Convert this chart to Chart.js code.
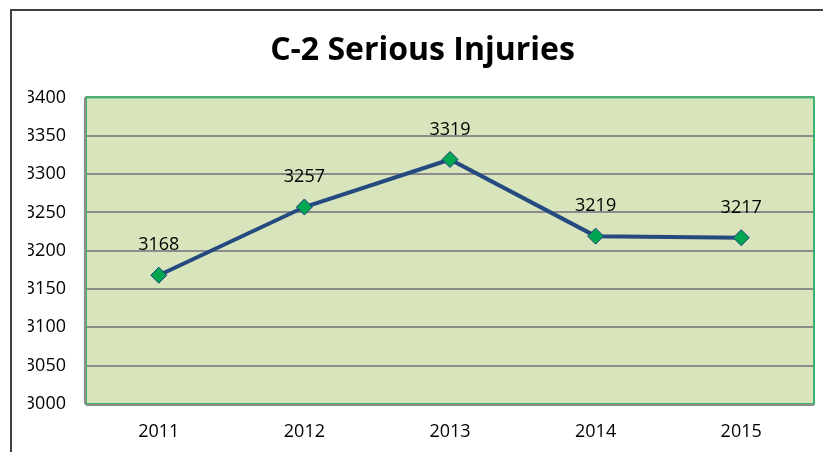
<!DOCTYPE html>
<html lang="en">

<head>
    <meta charset="UTF-8">
    <title>C-2 Serious Injuries</title>
    <script src="https://cdn.jsdelivr.net/npm/chart.js"></script>
    <style>
        body {
            margin: 0;
            background: #ffffff;
        }

        .frame {
            position: absolute;
            left: 10px;
            top: 9px;
            width: 830px;
            height: 460px;
            border-left: 2px solid #404040;
            border-top: 2px solid #404040;
        }

        canvas {
            position: absolute;
            left: 0;
            top: 0;
        }
    </style>
</head>

<body>
    <div class="frame"></div>
    <canvas id="injuryChart" width="823" height="452"></canvas>

    <script>
        const years = ['2011', '2012', '2013', '2014', '2015'];
        const injuries = [3168, 3257, 3319, 3219, 3217];
        const yMin = 3000;
        const yMax = 3400;
        const yStep = 50;

        // draws the plot background, the green border and the value labels
        const plotDecor = {
            id: 'plotDecor',
            beforeDraw(chart) {
                const { ctx, chartArea: a } = chart;
                ctx.save();
                ctx.fillStyle = '#d8e4bc';
                ctx.fillRect(a.left, a.top, a.right - a.left, a.bottom - a.top);
                ctx.restore();
            },
            afterDatasetsDraw(chart) {
                const { ctx, chartArea: a } = chart;
                ctx.save();
                ctx.strokeStyle = '#3cb46e';
                ctx.lineWidth = 2;
                ctx.strokeRect(a.left, a.top, a.right - a.left, a.bottom - a.top);
                ctx.strokeStyle = '#8c8c8c';
                ctx.beginPath();
                ctx.moveTo(a.left - 1, a.top);
                ctx.lineTo(a.left - 1, a.bottom);
                ctx.moveTo(a.left, a.bottom + 1);
                ctx.lineTo(a.right, a.bottom + 1);
                ctx.stroke();

                const meta = chart.getDatasetMeta(0);
                ctx.fillStyle = '#000000';
                ctx.font = '18px "Open Sans", sans-serif';
                ctx.textAlign = 'center';
                ctx.textBaseline = 'middle';
                meta.data.forEach((pt, i) => {
                    ctx.fillText(String(injuries[i]), pt.x, pt.y - 30);
                });
                ctx.restore();
            }
        };

        const ctx = document.getElementById('injuryChart').getContext('2d');

        new Chart(ctx, {
            type: 'line',
            data: {
                labels: years,
                datasets: [{
                    data: injuries,
                    borderColor: '#254a80',
                    borderWidth: 4,
                    tension: 0,
                    pointStyle: 'rectRot',
                    pointRadius: 8,
                    pointHoverRadius: 8,
                    pointBackgroundColor: '#00a650',
                    pointBorderColor: '#1f3f7f',
                    pointBorderWidth: 1
                }]
            },
            options: {
                responsive: false,
                animation: false,
                layout: {
                    padding: { left: 28, right: 6, top: 0, bottom: 0 }
                },
                plugins: {
                    legend: { display: false },
                    tooltip: { enabled: false },
                    title: {
                        display: true,
                        text: 'C-2 Serious Injuries',
                        color: '#000000',
                        font: { family: '"Open Sans", sans-serif', size: 32, weight: 'bold', lineHeight: 1.2 },
                        padding: { top: 32, bottom: 27 }
                    }
                },
                scales: {
                    x: {
                        offset: true,
                        grid: { display: false, drawTicks: false },
                        border: { display: false },
                        ticks: {
                            color: '#000000',
                            padding: 17,
                            font: { family: '"Open Sans", sans-serif', size: 18 }
                        },
                        afterFit: (scale) => { scale.height = 48; }
                    },
                    y: {
                        min: yMin,
                        max: yMax,
                        grid: {
                            color: '#8c8c8c',
                            lineWidth: 2,
                            drawTicks: false
                        },
                        border: { display: false },
                        ticks: {
                            stepSize: yStep,
                            color: '#000000',
                            padding: 20,
                            font: { family: '"Open Sans", sans-serif', size: 18 },
                            callback: (v) => String(v)
                        },
                        afterFit: (scale) => { scale.width = 58; }
                    }
                }
            },
            plugins: [plotDecor]
        });
    </script>

</body>

</html>
